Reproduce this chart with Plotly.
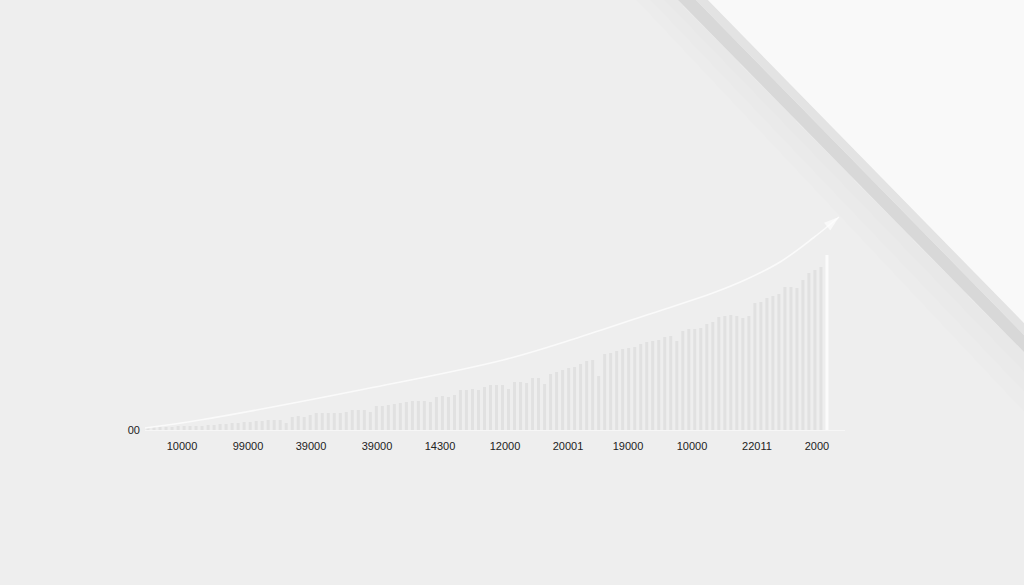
import plotly.graph_objects as go

# ---- data ----
bar_values = [3, 3, 3, 3, 3, 4, 4, 4, 4, 4,
              5, 5, 6, 6, 7, 7, 8, 8, 9, 9,
              10, 10, 10, 7, 13, 14, 13, 15, 17, 17,
              17, 17, 17, 18, 20, 20, 20, 18, 24, 24,
              25, 26, 27, 28, 29, 29, 29, 28, 33, 34,
              33, 35, 40, 40, 41, 40, 43, 45, 45, 45,
              41, 48, 48, 47, 52, 52, 46, 56, 58, 60,
              62, 63, 66, 69, 70, 54, 76, 77, 79, 81,
              82, 83, 86, 88, 89, 90, 93, 94, 89, 99,
              101, 101, 102, 106, 108, 113, 114, 115, 114, 112,
              114, 127, 128, 132, 134, 136, 143, 143, 142, 150,
              157, 160, 163, 175]
bar_index = list(range(len(bar_values)))

trend_x = [-0.5, 8.65, 35.3, 59.1, 71.9, 83.0, 94.0, 99.7, 105.2, 110.7, 115.0]
trend_y = [2, 10, 40, 70, 93, 115, 137, 151, 168, 192, 213]

x_tick_vals = [5.66, 16.64, 27.13, 38.11, 48.59, 59.41, 69.9, 79.88, 90.53, 101.35, 111.33]
x_tick_text = ["10000", "99000", "39000", "39000", "14300", "12000",
               "20001", "19000", "10000", "22011", "2000"]
y_tick_vals = [0]
y_tick_text = ["00"]

# ---- styling ----
W, H = 1024, 585
BG = "#eeeeee"
bar_colors = ["#e1e1e1"] * (len(bar_values) - 1) + ["#fbfbfb"]

def px(x, y):
    return x / W, 1 - y / H

def poly(points):
    parts = []
    for i, (x, y) in enumerate(points):
        xp, yp = px(x, y)
        parts.append(("M" if i == 0 else "L") + f"{xp:.5f},{yp:.5f}")
    return " ".join(parts) + " Z"

fig = go.Figure()

fig.add_trace(go.Bar(
    x=bar_index, y=bar_values,
    marker=dict(color=bar_colors, line=dict(width=0)),
    width=0.5,
    hoverinfo="skip",
))

marker_sizes = [0] * (len(trend_x) - 1) + [16]
fig.add_trace(go.Scatter(
    x=trend_x, y=trend_y,
    mode="lines+markers",
    line=dict(color="#fafafa", width=1.6, shape="spline", smoothing=1.0),
    marker=dict(symbol="arrow", size=marker_sizes, color="#fdfdfd",
                angleref="previous", line=dict(width=0)),
    hoverinfo="skip",
    cliponaxis=False,
))

shapes = []
# soft shadow next to the edge, built from a few faint layers
for extra in (60, 40, 20):
    shapes.append(dict(type="path", xref="paper", yref="paper", layer="below",
                       path=poly([(678 - extra * 0.7, 0), (678, 0), (1024, 352), (1024, 352 + extra)]),
                       fillcolor="rgba(0,0,0,0.006)", line=dict(width=0)))
shapes += [
    # bevel band (outer darker part)
    dict(type="path", xref="paper", yref="paper", layer="below",
         path=poly([(678, 0), (696, 0), (1024, 335), (1024, 352)]),
         fillcolor="#d8d8d8", line=dict(width=0)),
    # bevel band (inner lighter part)
    dict(type="path", xref="paper", yref="paper", layer="below",
         path=poly([(696, 0), (708, 0), (1024, 323), (1024, 335)]),
         fillcolor="#e3e3e3", line=dict(width=0)),
    # white panel
    dict(type="path", xref="paper", yref="paper", layer="below",
         path=poly([(708, 0), (1024, 0), (1024, 323)]),
         fillcolor="#f9f9f9", line=dict(width=0)),
]

fig.update_layout(
    width=W, height=H,
    margin=dict(l=0, r=0, t=0, b=0),
    paper_bgcolor=BG,
    plot_bgcolor="rgba(0,0,0,0)",
    showlegend=False,
    bargap=0.5,
    shapes=shapes,
    font=dict(family="Liberation Sans, Arial, sans-serif", size=11, color="#222222"),
    xaxis=dict(
        domain=[145 / W, 845 / W],
        range=[-0.5, 116.0],
        showgrid=False, zeroline=False,
        showline=True, linecolor="#f6f6f6", linewidth=1,
        tickmode="array", tickvals=x_tick_vals, ticktext=x_tick_text,
        ticks="", ticklabelstandoff=6,
        automargin=False,
    ),
    yaxis=dict(
        domain=[1 - 430 / H, 1 - 200 / H],
        range=[0, 230],
        showgrid=False, zeroline=False, showline=False,
        tickmode="array", tickvals=y_tick_vals, ticktext=y_tick_text,
        ticks="", ticklabelstandoff=4,
        automargin=False,
    ),
)

fig.write_html("out.html",
               config={"displayModeBar": False},
               post_script="document.body.style.margin='0';document.body.style.background='#eeeeee';")
